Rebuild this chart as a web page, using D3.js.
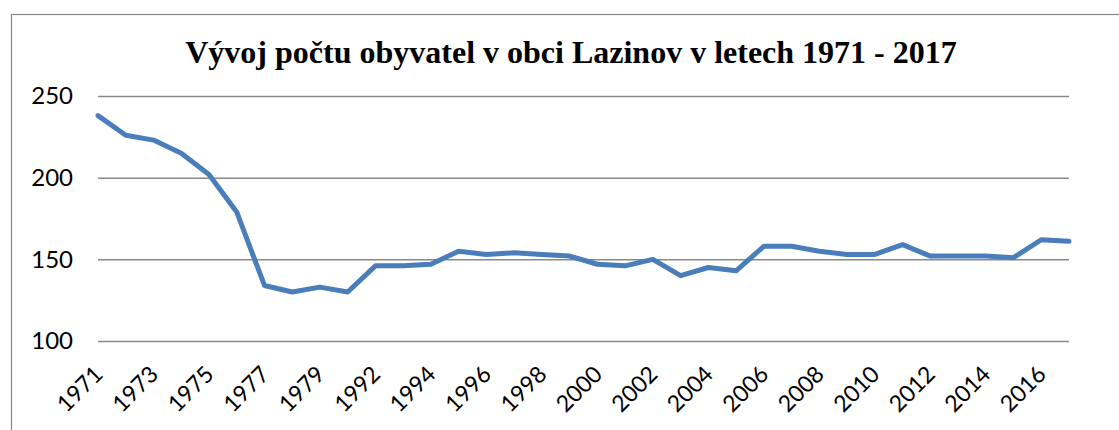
<!DOCTYPE html>
<html>
<head>
<meta charset="utf-8">
<script src="https://cdn.jsdelivr.net/npm/d3@7"></script>
<style>
  html, body { margin: 0; padding: 0; background: #fff; }
  svg { display: block; }
</style>
</head>
<body>
<svg id="chart" width="1119" height="430"></svg>
<script>
const title = "Vývoj počtu obyvatel v obci Lazinov v letech 1971 - 2017";
const years = ["1971","1972","1973","1974","1975","1976","1977","1978","1979","1991",
  "1992","1993","1994","1995","1996","1997","1998","1999","2000","2001",
  "2002","2003","2004","2005","2006","2007","2008","2009","2010","2011",
  "2012","2013","2014","2015","2016","2017"];
const population = [238,226,223,215,202,179,134,130,133,130,
  146,146,147,155,153,154,153,152,147,146,
  150,140,145,143,158,158,155,153,153,159,
  152,152,152,151,162,161];
const yTicks = [100,150,200,250];
const xLabelYears = ["1971","1973","1975","1977","1979","1992","1994","1996","1998","2000",
  "2002","2004","2006","2008","2010","2012","2014","2016"];

const svg = d3.select("#chart");

// chart border
svg.append("rect")
  .attr("x", 11.5).attr("y", 14.5)
  .attr("width", 1130).attr("height", 430)
  .attr("fill", "none").attr("stroke", "#898989").attr("stroke-width", 1.2);

const plot = { left: 98, right: 1069, top: 96, bottom: 341 };
const x = d3.scalePoint().domain(years).range([plot.left, plot.right]);
const y = d3.scaleLinear().domain([100, 250]).range([plot.bottom, plot.top]);

// gridlines
const gy = svg.append("g")
  .attr("transform", `translate(${plot.left},0)`)
  .call(d3.axisLeft(y).tickValues(yTicks).tickSize(-(plot.right - plot.left)).tickFormat(""));
gy.select(".domain").remove();
gy.selectAll("line").attr("stroke", "#898989").attr("stroke-width", 1.5);

// y labels
const yl = svg.append("g")
  .attr("transform", `translate(${plot.left},0)`)
  .call(d3.axisLeft(y).tickValues(yTicks).tickSize(0).tickPadding(25));
yl.select(".domain").remove();
yl.selectAll("text")
  .attr("font-family", "Lato, 'Open Sans', sans-serif")
  .attr("font-size", 24).attr("fill", "#000");

// x labels
const xa = svg.append("g")
  .attr("transform", `translate(0,${plot.bottom})`)
  .call(d3.axisBottom(x).tickValues(xLabelYears).tickSize(0).tickPadding(0));
xa.select(".domain").remove();
xa.selectAll("text")
  .attr("font-family", "Lato, 'Open Sans', sans-serif")
  .attr("font-size", 23).attr("fill", "#000")
  .attr("text-anchor", "end")
  .attr("y", 0).attr("dy", "0.35em")
  .attr("transform", "translate(0,29) rotate(-45)");

// line
const line = d3.line().x((d, i) => x(years[i])).y(d => y(d));
svg.append("path").datum(population).attr("d", line)
  .attr("fill", "none").attr("stroke", "#4a7ebb").attr("stroke-width", 5)
  .attr("stroke-linejoin", "round").attr("stroke-linecap", "round");

// title
svg.append("text")
  .attr("x", 571).attr("y", 63).attr("text-anchor", "middle")
  .attr("font-family", "'Liberation Serif', 'Times New Roman', serif")
  .attr("font-weight", "bold").attr("font-size", 32).attr("fill", "#000")
  .text(title);
</script>
</body>
</html>
